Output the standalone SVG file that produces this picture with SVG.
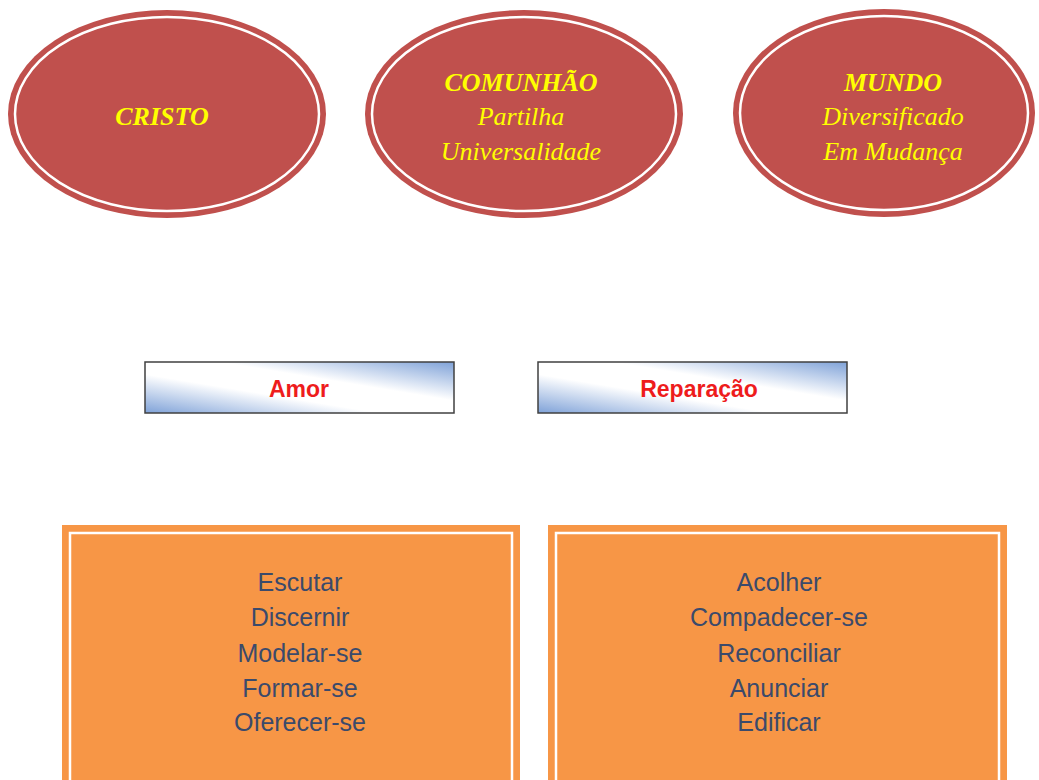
<svg xmlns="http://www.w3.org/2000/svg" width="1039" height="780" viewBox="0 0 1039 780">
<defs>
<linearGradient id="bar" x1="0" y1="1" x2="1" y2="0">
<stop offset="0" stop-color="#7fa2d8"/>
<stop offset="0.38" stop-color="#ffffff"/>
<stop offset="0.62" stop-color="#ffffff"/>
<stop offset="1" stop-color="#7fa2d8"/>
</linearGradient>
<style>
.ell{fill:#c0504d;}
.ring{fill:none;stroke:#ffffff;stroke-width:2.5;}
.et{font-family:"Liberation Serif",serif;font-style:italic;font-size:26px;fill:#ffff00;text-anchor:middle;}
.eb{font-weight:bold;}
.bar{fill:url(#bar);stroke:#404040;stroke-width:1.5;}
.bt{font-family:"Liberation Sans",Arial,sans-serif;font-weight:bold;font-size:23px;fill:#ee1c1c;text-anchor:middle;}
.box{fill:#f79646;}
.bring{fill:none;stroke:#ffffff;stroke-width:2.5;}
.lt{font-family:"Liberation Sans",Arial,sans-serif;font-size:25px;fill:#3b4a6b;text-anchor:middle;}
</style>
</defs>
<rect width="1039" height="780" fill="#ffffff"/>
<g id="cristo">
<ellipse class="ell" cx="167" cy="114" rx="159" ry="104"/>
<ellipse class="ring" cx="167" cy="114" rx="152" ry="97"/>
<text class="et eb" x="162" y="125">CRISTO</text>
</g>
<g id="comunhao">
<ellipse class="ell" cx="524" cy="114" rx="159" ry="104"/>
<ellipse class="ring" cx="524" cy="114" rx="152" ry="97"/>
<text class="et eb" x="521" y="91">COMUNHÃO</text>
<text class="et" x="521" y="125">Partilha</text>
<text class="et" x="521" y="160">Universalidade</text>
</g>
<g id="mundo">
<ellipse class="ell" cx="884" cy="113" rx="151" ry="104"/>
<ellipse class="ring" cx="884" cy="113" rx="144" ry="97"/>
<text class="et eb" x="893" y="91">MUNDO</text>
<text class="et" x="893" y="125">Diversificado</text>
<text class="et" x="893" y="160">Em Mudança</text>
</g>
<g id="amor">
<rect class="bar" x="145" y="362" width="309" height="51"/>
<text class="bt" x="299" y="397">Amor</text>
</g>
<g id="reparacao">
<rect class="bar" x="538" y="362" width="309" height="51"/>
<text class="bt" x="699" y="397">Reparação</text>
</g>
<g id="left-box">
<rect class="box" x="62" y="525" width="458" height="265"/>
<rect class="bring" x="70" y="533" width="442" height="249"/>
<text class="lt" x="300" y="591">Escutar</text>
<text class="lt" x="300" y="626">Discernir</text>
<text class="lt" x="300" y="662">Modelar-se</text>
<text class="lt" x="300" y="697">Formar-se</text>
<text class="lt" x="300" y="731">Oferecer-se</text>
</g>
<g id="right-box">
<rect class="box" x="548" y="525" width="459" height="265"/>
<rect class="bring" x="556" y="533" width="443" height="249"/>
<text class="lt" x="779" y="591">Acolher</text>
<text class="lt" x="779" y="626">Compadecer-se</text>
<text class="lt" x="779" y="662">Reconciliar</text>
<text class="lt" x="779" y="697">Anunciar</text>
<text class="lt" x="779" y="731">Edificar</text>
</g>
<g id="connectors"></g>
</svg>
